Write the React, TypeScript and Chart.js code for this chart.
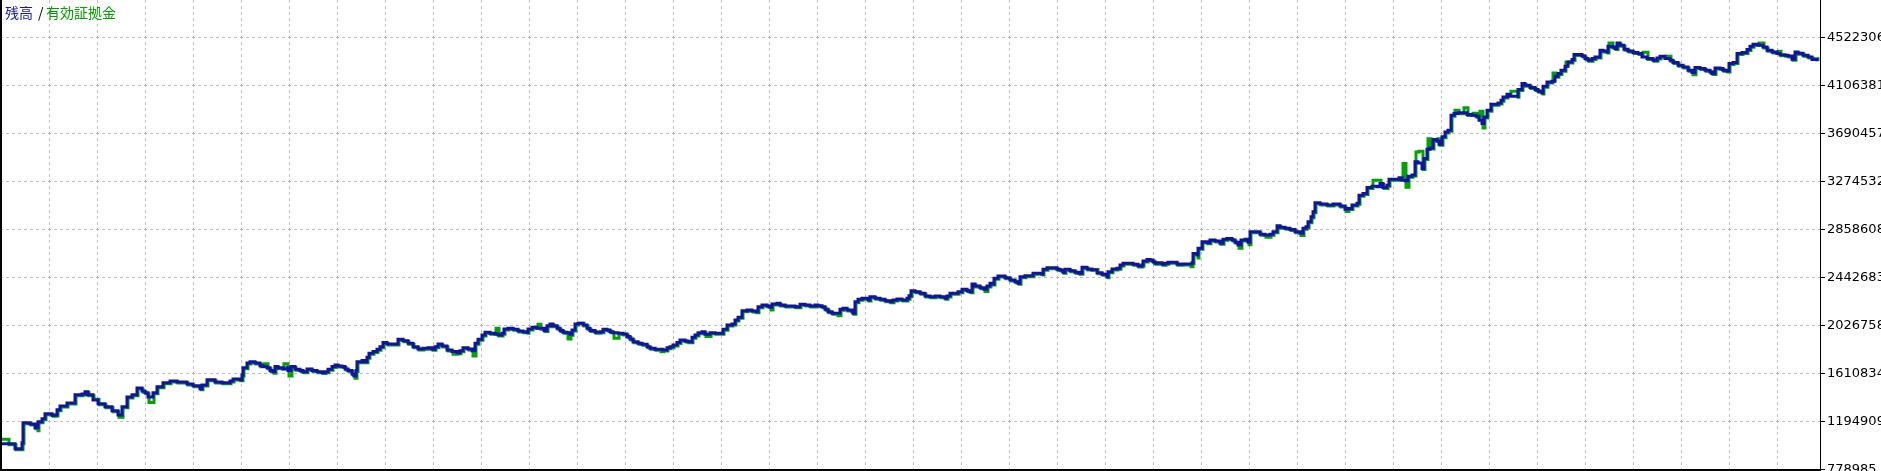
import React, { useEffect, useRef } from 'react';
import { Chart, registerables } from 'chart.js';

Chart.register(...registerables);

// trade number (x) for each sampled point
const tradeNo = [
  0, 8, 15, 18, 22, 23, 30, 35, 37, 38,
  42, 45, 52, 55, 57, 60, 67, 72, 75, 82,
  85, 88, 93, 98, 105, 112, 118, 122, 127, 132,
  137, 142, 145, 148, 153, 157, 163, 170, 177, 187,
  193, 200, 202, 207, 215, 222, 230, 233, 238, 240,
  242, 243, 247, 250, 255, 260, 263, 267, 270, 273,
  275, 278, 283, 287, 288, 291, 295, 300, 303, 307,
  312, 317, 322, 325, 328, 332, 335, 338, 342, 345,
  348, 352, 354, 356, 357, 362, 365, 367, 369, 373,
  377, 380, 383, 387, 397, 398, 403, 408, 413, 418,
  423, 428, 432, 435, 438, 442, 447, 452, 457, 460,
  463, 468, 472, 475, 478, 482, 485, 490, 495, 498,
  502, 504, 508, 513, 518, 523, 527, 528, 532, 537,
  540, 544, 547, 550, 553, 557, 560, 563, 567, 570,
  572, 575, 578, 583, 587, 590, 595, 600, 603, 607,
  610, 613, 618, 623, 627, 630, 633, 638, 642, 647,
  650, 655, 660, 663, 667, 670, 673, 677, 680, 685,
  688, 692, 695, 698, 702, 705, 710, 715, 720, 723,
  727, 732, 735, 738, 742, 747, 752, 756, 758, 762,
  767, 770, 772, 777, 780, 785, 790, 795, 800, 805,
  810, 815, 818, 822, 825, 828, 832, 837, 840, 843,
  847, 852, 853, 855, 858, 862, 865, 868, 870, 875,
  880, 885, 890, 893, 897, 902, 907, 909, 911, 915,
  920, 925, 930, 935, 940, 945, 947, 950, 955, 958,
  962, 967, 970, 972, 975, 980, 984, 987, 990, 993,
  994, 998, 1002, 1005, 1010, 1015, 1018, 1020, 1025, 1030,
  1033, 1037, 1042, 1043, 1047, 1052, 1057, 1060, 1063, 1065,
  1070, 1075, 1079, 1082, 1087, 1092, 1097, 1102, 1107, 1108,
  1112, 1117, 1120, 1123, 1128, 1133, 1138, 1142, 1143, 1147,
  1150, 1153, 1155, 1158, 1162, 1165, 1168, 1173, 1177, 1182,
  1186, 1190, 1192, 1193, 1197, 1198, 1202, 1207, 1210, 1215,
  1220, 1223, 1227, 1232, 1235, 1238, 1241, 1245, 1248, 1250,
  1255, 1260, 1265, 1270, 1273, 1277, 1280, 1285, 1290, 1295,
  1300, 1303, 1306, 1308, 1311, 1313, 1315, 1320, 1327, 1333,
  1340, 1345, 1348, 1352, 1357, 1359, 1363, 1367, 1372, 1377,
  1380, 1383, 1387, 1389, 1395, 1399, 1402, 1405, 1408, 1412,
  1415, 1418, 1422, 1424, 1427, 1430, 1433, 1437, 1439, 1442,
  1445, 1448, 1451, 1454, 1458, 1463, 1467, 1472, 1476, 1479,
  1482, 1484, 1487, 1491, 1495, 1498, 1501, 1503, 1507, 1510,
  1517, 1518, 1522, 1525, 1530, 1535, 1538, 1542, 1543, 1547,
  1552, 1555, 1558, 1561, 1565, 1568, 1572, 1574, 1578, 1582,
  1585, 1588, 1592, 1595, 1598, 1600, 1603, 1607, 1608, 1612,
  1615, 1617, 1620, 1624, 1628, 1633, 1638, 1642, 1647, 1653,
  1657, 1660, 1665, 1670, 1673, 1678, 1683, 1688, 1692, 1695,
  1700, 1705, 1710, 1712, 1715, 1720, 1723, 1727, 1729, 1733,
  1737, 1742, 1747, 1750, 1753, 1758, 1763, 1767, 1772, 1777,
  1780, 1785, 1788, 1792, 1795, 1798, 1803, 1808, 1812, 1817,
];

// 残高 (balance)
const balance = [
  1000000, 1000000, 957000, 957000, 1009000, 1182000, 1173000, 1139000, 1139000, 1191000,
  1217000, 1260000, 1247000, 1251000, 1295000, 1329000, 1355000, 1355000, 1425000, 1433000,
  1451000, 1425000, 1381000, 1347000, 1321000, 1286000, 1251000, 1321000, 1407000, 1425000,
  1485000, 1459000, 1442000, 1407000, 1442000, 1494000, 1529000, 1546000, 1537000, 1520000,
  1503000, 1477000, 1511000, 1555000, 1537000, 1529000, 1546000, 1563000, 1563000, 1555000,
  1598000, 1659000, 1702000, 1713000, 1702000, 1678000, 1670000, 1659000, 1635000, 1626000,
  1670000, 1659000, 1650000, 1659000, 1635000, 1670000, 1647000, 1635000, 1626000, 1650000,
  1635000, 1626000, 1618000, 1626000, 1647000, 1670000, 1684000, 1676000, 1670000, 1650000,
  1635000, 1606000, 1589000, 1635000, 1713000, 1722000, 1713000, 1751000, 1786000, 1800000,
  1820000, 1843000, 1878000, 1866000, 1866000, 1907000, 1895000, 1872000, 1843000, 1823000,
  1829000, 1834000, 1820000, 1843000, 1866000, 1849000, 1814000, 1800000, 1791000, 1808000,
  1834000, 1823000, 1808000, 1872000, 1907000, 1944000, 1968000, 1959000, 1953000, 1944000,
  1959000, 1996000, 2002000, 1994000, 1979000, 1973000, 1968000, 1996000, 2011000, 2002000,
  2002000, 1982000, 2025000, 2040000, 2025000, 2002000, 1982000, 1968000, 1964000, 1951000,
  1988000, 2040000, 2046000, 2031000, 2002000, 1982000, 1968000, 1973000, 1994000, 1988000,
  1973000, 1964000, 1959000, 1953000, 1930000, 1910000, 1886000, 1872000, 1864000, 1843000,
  1829000, 1820000, 1820000, 1814000, 1834000, 1843000, 1858000, 1878000, 1901000, 1892000,
  1886000, 1925000, 1944000, 1964000, 1973000, 1951000, 1964000, 1959000, 1959000, 1994000,
  2031000, 2040000, 2074000, 2098000, 2155000, 2161000, 2152000, 2146000, 2190000, 2204000,
  2196000, 2184000, 2213000, 2219000, 2204000, 2196000, 2196000, 2190000, 2210000, 2204000,
  2196000, 2204000, 2198000, 2190000, 2167000, 2146000, 2132000, 2132000, 2167000, 2176000,
  2161000, 2146000, 2132000, 2233000, 2254000, 2262000, 2262000, 2248000, 2276000, 2262000,
  2254000, 2242000, 2233000, 2248000, 2256000, 2248000, 2262000, 2285000, 2328000, 2320000,
  2306000, 2282000, 2276000, 2282000, 2276000, 2262000, 2282000, 2306000, 2306000, 2320000,
  2340000, 2328000, 2320000, 2386000, 2369000, 2354000, 2340000, 2369000, 2392000, 2386000,
  2436000, 2456000, 2456000, 2441000, 2421000, 2406000, 2392000, 2450000, 2458000, 2458000,
  2479000, 2479000, 2473000, 2514000, 2528000, 2528000, 2514000, 2508000, 2488000, 2514000,
  2502000, 2488000, 2479000, 2531000, 2516000, 2508000, 2484000, 2470000, 2450000, 2493000,
  2516000, 2522000, 2551000, 2566000, 2566000, 2557000, 2542000, 2551000, 2586000, 2600000,
  2594000, 2580000, 2566000, 2571000, 2557000, 2566000, 2574000, 2574000, 2557000, 2560000,
  2560000, 2560000, 2571000, 2652000, 2638000, 2696000, 2753000, 2744000, 2768000, 2759000,
  2739000, 2774000, 2782000, 2768000, 2748000, 2724000, 2768000, 2774000, 2748000, 2840000,
  2840000, 2817000, 2811000, 2817000, 2840000, 2891000, 2878000, 2869000, 2860000, 2840000,
  2826000, 2869000, 2883000, 2926000, 2969000, 3013000, 3091000, 3080000, 3071000, 3080000,
  3062000, 3034000, 3042000, 3071000, 3086000, 3157000, 3172000, 3224000, 3235000, 3229000,
  3259000, 3224000, 3244000, 3294000, 3296000, 3307000, 3287000, 3281000, 3322000, 3331000,
  3446000, 3437000, 3389000, 3475000, 3556000, 3567000, 3640000, 3625000, 3599000, 3663000,
  3706000, 3721000, 3851000, 3865000, 3871000, 3871000, 3857000, 3851000, 3842000, 3807000,
  3779000, 3836000, 3894000, 3946000, 3946000, 3957000, 3981000, 4009000, 4033000, 4015000,
  4015000, 4073000, 4125000, 4111000, 4091000, 4073000, 4059000, 4044000, 4102000, 4139000,
  4145000, 4189000, 4212000, 4241000, 4275000, 4313000, 4333000, 4377000, 4377000, 4365000,
  4342000, 4327000, 4342000, 4356000, 4356000, 4414000, 4408000, 4399000, 4449000, 4443000,
  4429000, 4477000, 4457000, 4423000, 4408000, 4394000, 4385000, 4356000, 4342000, 4327000,
  4347000, 4362000, 4342000, 4327000, 4307000, 4284000, 4269000, 4241000, 4221000, 4264000,
  4255000, 4241000, 4226000, 4212000, 4261000, 4255000, 4241000, 4235000, 4299000, 4307000,
  4385000, 4394000, 4420000, 4449000, 4466000, 4457000, 4443000, 4414000, 4399000, 4385000,
  4374000, 4371000, 4365000, 4336000, 4399000, 4388000, 4371000, 4356000, 4333000, 4319000,
];

// 有効証拠金 (equity)
const equity = [
  1049000, 1000000, 957000, 957000, 1009000, 1182000, 1173000, 1139000, 1121000, 1191000,
  1217000, 1260000, 1247000, 1251000, 1295000, 1329000, 1355000, 1355000, 1425000, 1433000,
  1451000, 1425000, 1395000, 1347000, 1321000, 1286000, 1240000, 1321000, 1407000, 1425000,
  1485000, 1459000, 1442000, 1367000, 1442000, 1494000, 1529000, 1546000, 1537000, 1520000,
  1503000, 1477000, 1511000, 1555000, 1537000, 1529000, 1546000, 1563000, 1563000, 1555000,
  1598000, 1659000, 1702000, 1713000, 1702000, 1678000, 1704000, 1659000, 1635000, 1620000,
  1670000, 1659000, 1704000, 1659000, 1598000, 1670000, 1647000, 1635000, 1626000, 1650000,
  1635000, 1626000, 1618000, 1626000, 1647000, 1670000, 1684000, 1676000, 1670000, 1650000,
  1635000, 1606000, 1578000, 1635000, 1713000, 1722000, 1713000, 1751000, 1786000, 1800000,
  1820000, 1843000, 1878000, 1866000, 1866000, 1907000, 1895000, 1872000, 1843000, 1823000,
  1829000, 1834000, 1820000, 1843000, 1866000, 1849000, 1814000, 1785000, 1791000, 1808000,
  1834000, 1823000, 1771000, 1872000, 1907000, 1944000, 1968000, 1959000, 2011000, 1944000,
  1959000, 1996000, 2002000, 1994000, 1979000, 1973000, 1968000, 1996000, 2011000, 2046000,
  2002000, 1982000, 2025000, 2040000, 2025000, 2002000, 1982000, 1968000, 1918000, 1951000,
  1988000, 2040000, 2054000, 2031000, 2002000, 1982000, 1968000, 1973000, 1994000, 1988000,
  1973000, 1924000, 1959000, 1953000, 1930000, 1910000, 1886000, 1872000, 1864000, 1843000,
  1829000, 1820000, 1808000, 1814000, 1834000, 1843000, 1858000, 1878000, 1901000, 1892000,
  1886000, 1925000, 1944000, 1964000, 1973000, 1940000, 1964000, 1959000, 1959000, 1994000,
  2031000, 2040000, 2074000, 2098000, 2155000, 2161000, 2152000, 2146000, 2190000, 2204000,
  2196000, 2170000, 2213000, 2219000, 2204000, 2196000, 2196000, 2190000, 2210000, 2204000,
  2196000, 2204000, 2198000, 2190000, 2167000, 2146000, 2132000, 2120000, 2167000, 2176000,
  2161000, 2146000, 2132000, 2233000, 2254000, 2262000, 2262000, 2248000, 2276000, 2262000,
  2254000, 2242000, 2233000, 2248000, 2256000, 2248000, 2262000, 2285000, 2328000, 2320000,
  2306000, 2282000, 2276000, 2282000, 2276000, 2262000, 2282000, 2306000, 2306000, 2320000,
  2340000, 2328000, 2320000, 2386000, 2369000, 2354000, 2330000, 2369000, 2392000, 2386000,
  2436000, 2456000, 2456000, 2441000, 2421000, 2406000, 2392000, 2450000, 2458000, 2458000,
  2479000, 2479000, 2473000, 2514000, 2528000, 2528000, 2514000, 2508000, 2488000, 2514000,
  2502000, 2488000, 2479000, 2531000, 2516000, 2520000, 2484000, 2470000, 2450000, 2493000,
  2516000, 2522000, 2551000, 2566000, 2566000, 2557000, 2542000, 2551000, 2586000, 2600000,
  2594000, 2580000, 2566000, 2571000, 2557000, 2566000, 2574000, 2574000, 2557000, 2560000,
  2560000, 2545000, 2571000, 2652000, 2620000, 2696000, 2753000, 2744000, 2768000, 2759000,
  2739000, 2774000, 2782000, 2768000, 2748000, 2705000, 2768000, 2774000, 2735000, 2840000,
  2840000, 2817000, 2800000, 2817000, 2840000, 2891000, 2878000, 2869000, 2860000, 2840000,
  2815000, 2869000, 2883000, 2926000, 2969000, 3013000, 3091000, 3080000, 3071000, 3080000,
  3062000, 3025000, 3042000, 3071000, 3086000, 3157000, 3172000, 3224000, 3296000, 3296000,
  3259000, 3224000, 3244000, 3294000, 3296000, 3307000, 3441000, 3235000, 3322000, 3331000,
  3541000, 3546000, 3389000, 3475000, 3654000, 3567000, 3640000, 3654000, 3599000, 3663000,
  3706000, 3721000, 3851000, 3903000, 3871000, 3923000, 3857000, 3877000, 3842000, 3894000,
  3749000, 3836000, 3894000, 3946000, 3946000, 3957000, 3981000, 4009000, 4033000, 4067000,
  4015000, 4073000, 4125000, 4111000, 4091000, 4073000, 4059000, 4044000, 4102000, 4139000,
  4225000, 4189000, 4212000, 4241000, 4320000, 4313000, 4333000, 4377000, 4377000, 4365000,
  4342000, 4327000, 4342000, 4356000, 4356000, 4414000, 4408000, 4399000, 4486000, 4443000,
  4429000, 4477000, 4457000, 4423000, 4408000, 4394000, 4385000, 4405000, 4342000, 4327000,
  4347000, 4362000, 4371000, 4327000, 4307000, 4284000, 4269000, 4241000, 4210000, 4264000,
  4255000, 4241000, 4226000, 4212000, 4261000, 4255000, 4241000, 4235000, 4299000, 4307000,
  4385000, 4394000, 4420000, 4449000, 4466000, 4486000, 4443000, 4414000, 4399000, 4414000,
  4374000, 4371000, 4365000, 4336000, 4399000, 4388000, 4371000, 4356000, 4348000, 4330000,
];

// right-axis tick labels
const yTicks = [778985, 1194909, 1610834, 2026758, 2442683, 2858608, 3274532, 3690457, 4106381, 4522306];
const yMin = 778985;
const yMax = 4850000;
const xMin = 0;
const xMax = 1820;
// vertical grid positions (trade numbers)
const xGridTicks = [
  49, 97, 145, 193, 241, 289, 337, 385, 433, 481, 529, 577, 625, 673, 721, 769, 817, 865, 913,
  961, 1009, 1057, 1105, 1153, 1201, 1249, 1297, 1345, 1393, 1441, 1489, 1537, 1585, 1633, 1681,
  1729, 1777,
];

const labelBalance = '残高';
const labelSep = '/';
const labelEquity = '有効証拠金';

const BLUE = '#1212a6';
const GREEN = '#00a400';
const GRID = '#c0c0c0';

const framePlugin = {
  id: 'frameAndLegend',
  beforeDatasetDraw(chart: any, args: any) {
    if (args.index === 1) {
      chart.ctx.save();
      chart.ctx.translate(1, 1);
    }
  },
  afterDatasetDraw(chart: any, args: any) {
    if (args.index === 1) chart.ctx.restore();
  },
  afterDraw(chart: any) {
    const { ctx, chartArea: a } = chart;
    ctx.save();
    ctx.fillStyle = '#000';
    const bottom = Math.round(a.bottom);
    const right = Math.round(a.right);
    ctx.fillRect(0, 0, 2, chart.height);
    ctx.fillRect(0, bottom, right + 1, 2);
    ctx.fillRect(right, 0, 1, chart.height);
    ctx.font = '14px "Noto Sans CJK JP"';
    ctx.textBaseline = 'middle';
    ctx.textAlign = 'left';
    ctx.fillStyle = '#1a1aa0';
    ctx.fillText(labelBalance, 5, 12.5);
    ctx.fillStyle = '#000';
    ctx.fillText(labelSep, 38, 12.5);
    ctx.fillStyle = '#00a000';
    ctx.fillText(labelEquity, 46, 12.5);
    ctx.restore();
  },
};

export default function App() {
  const ref = useRef<HTMLCanvasElement | null>(null);

  useEffect(() => {
    document.body.style.margin = '0';
    const canvas = ref.current;
    if (!canvas) return;
    const chart = new Chart(canvas, {
      type: 'line',
      data: {
        datasets: [
          {
            label: labelBalance,
            data: tradeNo.map((x, i) => ({ x, y: balance[i] })),
            borderColor: BLUE,
            borderWidth: 3,
            pointRadius: 0,
            stepped: true,
            fill: false,
            order: 0,
          },
          {
            label: labelEquity,
            data: tradeNo.map((x, i) => ({ x, y: equity[i] })),
            borderColor: GREEN,
            borderWidth: 3,
            pointRadius: 0,
            stepped: true,
            fill: false,
            order: 1,
          },
        ],
      },
      options: {
        animation: false,
        responsive: false,
        devicePixelRatio: 1,
        layout: { padding: { left: 0, right: 0, top: 0, bottom: 1.7 }, autoPadding: false },
        plugins: { legend: { display: false }, tooltip: { enabled: false } },
        scales: {
          x: {
            type: 'linear',
            min: xMin,
            max: xMax,
            afterBuildTicks: (s: any) => {
              s.ticks = xGridTicks.map((v) => ({ value: v }));
            },
            afterFit: (s: any) => {
              s.height = 0;
              s.paddingLeft = 0;
              s.paddingRight = 0;
              s.paddingTop = 0;
              s.paddingBottom = 0;
            },
            ticks: { display: false },
            grid: { color: GRID, drawTicks: false, lineWidth: 1 },
            border: { display: false, dash: [3, 3] },
          },
          y: {
            position: 'right',
            min: yMin,
            max: yMax,
            afterBuildTicks: (s: any) => {
              s.ticks = yTicks.map((v) => ({ value: v }));
            },
            afterFit: (s: any) => {
              s.width = 61;
              s.paddingTop = 0;
              s.paddingBottom = 0;
              s.paddingLeft = 0;
              s.paddingRight = 0;
            },
            ticks: {
              autoSkip: false,
              padding: 2,
              color: '#000',
              font: { family: 'DejaVu Sans', size: 13 },
              callback: (v: any) => String(v),
            },
            grid: {
              color: GRID,
              lineWidth: 1,
              drawTicks: true,
              tickLength: 5,
              tickColor: '#000',
              tickBorderDash: [],
              tickWidth: 1,
            },
            border: { display: false, dash: [3, 3] },
          },
        },
      },
      plugins: [framePlugin],
    } as any);
    return () => chart.destroy();
  }, []);

  return (
    <div style={{ width: 1881, height: 471 }}>
      <canvas ref={ref} width={1881} height={471} style={{ display: 'block', width: 1881, height: 471 }} />
    </div>
  );
}
